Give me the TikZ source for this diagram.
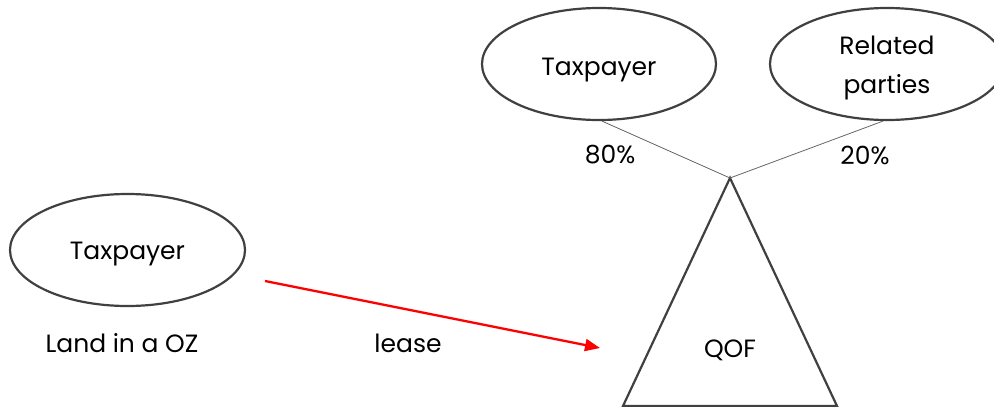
\documentclass[tikz,border=0pt]{standalone}
\usepackage{fontspec}
\setmainfont{Poppins}
\usetikzlibrary{shapes.geometric,arrows.meta}
\definecolor{edge}{HTML}{404040}
\tikzset{
  oval/.style={draw=edge, line width=2.2pt, ellipse, minimum width=#1, minimum height=112pt, inner sep=0pt},
  lbl/.style={font=\fontsize{25}{30}\selectfont, text=black, align=center},
  thin/.style={draw=edge!80, line width=0.8pt},
}
\begin{document}
\begin{tikzpicture}[x=1pt,y=-1pt]
\useasboundingbox (0,0) rectangle (994,407);
\node[oval=235pt] (tp1) at (127.5,250) {};
\node[lbl] (tp1t) at ([yshift=-4pt]tp1.center) {Taxpayer};
\node[oval=234pt] (tp2) at (599,64) {};
\node[lbl] (tp2t) at ([yshift=-6pt]tp2.center) {Taxpayer};
\node[oval=234pt] (rp) at (887,64) {};
\node[lbl, font=\fontsize{25}{39}\selectfont] (rpt) at ([yshift=-4pt]rp.center) {Related\\parties};
\coordinate (apex) at (730,178);
\coordinate (bl) at (623,406);
\coordinate (br) at (837,406);
\draw[draw=edge, line width=2.2pt, line join=miter] (apex) -- (bl) -- (br) -- cycle;
\node[lbl] (qof) at (730,350) {QOF};
\draw[thin] (tp2.south) ++(3,0) coordinate (t2s) (t2s) -- (apex);
\draw[thin] (rp.south) ++(-4,0) coordinate (rps) (rps) -- (apex);
\node[lbl] (p80) at (610,155) {80\%};
\node[lbl] (p20) at (865,155) {20\%};
\node[lbl] (land) at (122,343) {Land in a OZ};
\node[lbl] (lease) at (408,343) {lease};
\coordinate (as) at (265,281);
\coordinate (ae) at (600,348);
\draw[red, line width=2.3pt, -{Triangle[length=15pt,width=12pt]}] (as) -- (ae);
\end{tikzpicture}
\end{document}
